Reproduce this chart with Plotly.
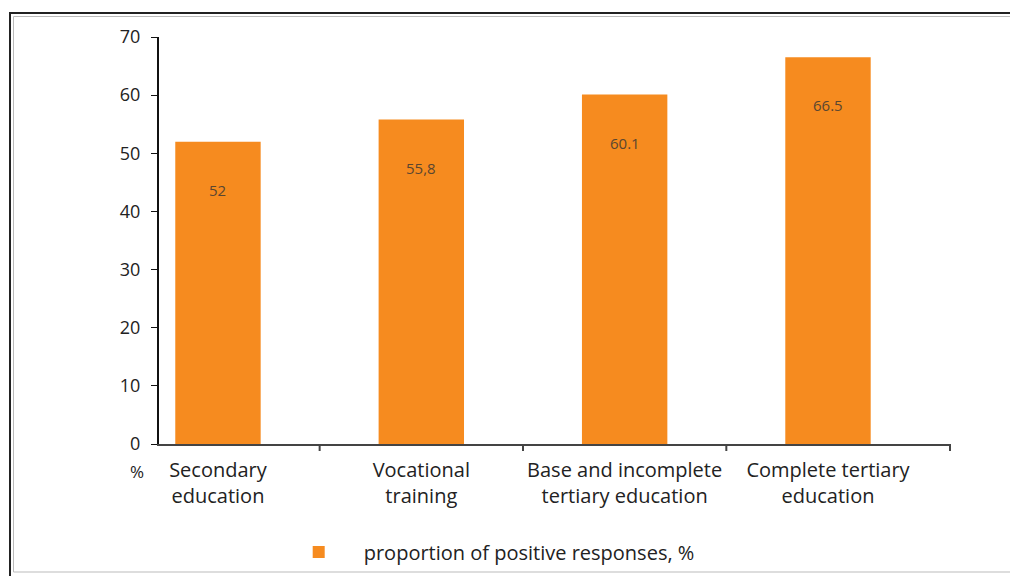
import plotly.graph_objects as go

categories = ["Secondary<br>education", "Vocational<br>training",
              "Base and incomplete<br>tertiary education", "Complete tertiary<br>education"]
values = [52, 55.8, 60.1, 66.5]
value_labels = ["52", "55,8", "60.1", "66.5"]
series_name = "proportion of positive responses, %"
y_ticks = [0, 10, 20, 30, 40, 50, 60, 70]

ORANGE = "#F68B1F"
FONT = "Open Sans"
PW, PH = 791, 407  # plot area size in px

fig = go.Figure()
fig.add_trace(go.Bar(
    x=list(range(len(categories))), y=values, name=series_name,
    marker=dict(color=ORANGE, line=dict(width=0)),
    width=0.42, showlegend=True,
))

for i, (v, t) in enumerate(zip(values, value_labels)):
    fig.add_annotation(x=i, y=v, text=t, showarrow=False, yshift=-48,
                       font=dict(family=FONT, size=15, color="#5a4630"))

fig.add_annotation(x=-22 / PW, y=-27 / PH, xref="paper", yref="paper", text="%",
                   showarrow=False, yanchor="middle", xanchor="center",
                   font=dict(family=FONT, size=17, color="#222"))

# frame (coordinates relative to plot area origin at left/bottom)
fig.add_shape(type="rect", xref="paper", yref="paper",
              x0=-149 / PW, x1=880 / PW, y0=-150 / PH, y1=431 / PH,
              line=dict(color="#222", width=2))
fig.add_shape(type="rect", xref="paper", yref="paper",
              x0=-145.5 / PW, x1=854 / PW, y0=-128 / PH, y1=427.5 / PH,
              line=dict(color="#bbb", width=1))
# end tick of x axis
fig.add_shape(type="line", xref="paper", yref="paper",
              x0=1, x1=1, y0=0, y1=-7 / PH, line=dict(color="#444", width=2))

fig.update_layout(
    width=1018, height=576,
    margin=dict(l=151, r=76, t=29, b=140, autoexpand=False),
    paper_bgcolor="white", plot_bgcolor="white",
    font=dict(family=FONT, size=16, color="#222"),
    legend=dict(orientation="h", xref="container", yref="container",
                x=0.261, xanchor="left", y=0.0556, yanchor="middle",
                font=dict(family=FONT, size=20, color="#222"),
                itemwidth=80, bgcolor="rgba(0,0,0,0)"),
    xaxis=dict(range=[-0.29, 3.6], tickmode="array", automargin=False,
               tickvals=list(range(len(categories))), ticktext=categories,
               showline=True, linecolor="#444", linewidth=2,
               ticks="outside", ticklen=7, tickcolor="rgba(0,0,0,0)",
               showgrid=False, zeroline=False,
               tickfont=dict(family=FONT, size=20, color="#222")),
    yaxis=dict(range=[0, 70], tickvals=y_ticks, showline=True, linecolor="#111",
               linewidth=2, ticks="outside", ticklen=6, tickcolor="#111", tickwidth=1,
               ticklabelstandoff=7,
               showgrid=False, zeroline=False, automargin=False,
               tickfont=dict(family=FONT, size=18, color="#222")),
)

# boundary ticks between categories
for b in [0.5, 1.5, 2.5]:
    fig.add_shape(type="line", xref="x", yref="paper", x0=b, x1=b, y0=0, y1=-7 / PH,
                  line=dict(color="#444", width=2))

fig.write_html("out.html")
